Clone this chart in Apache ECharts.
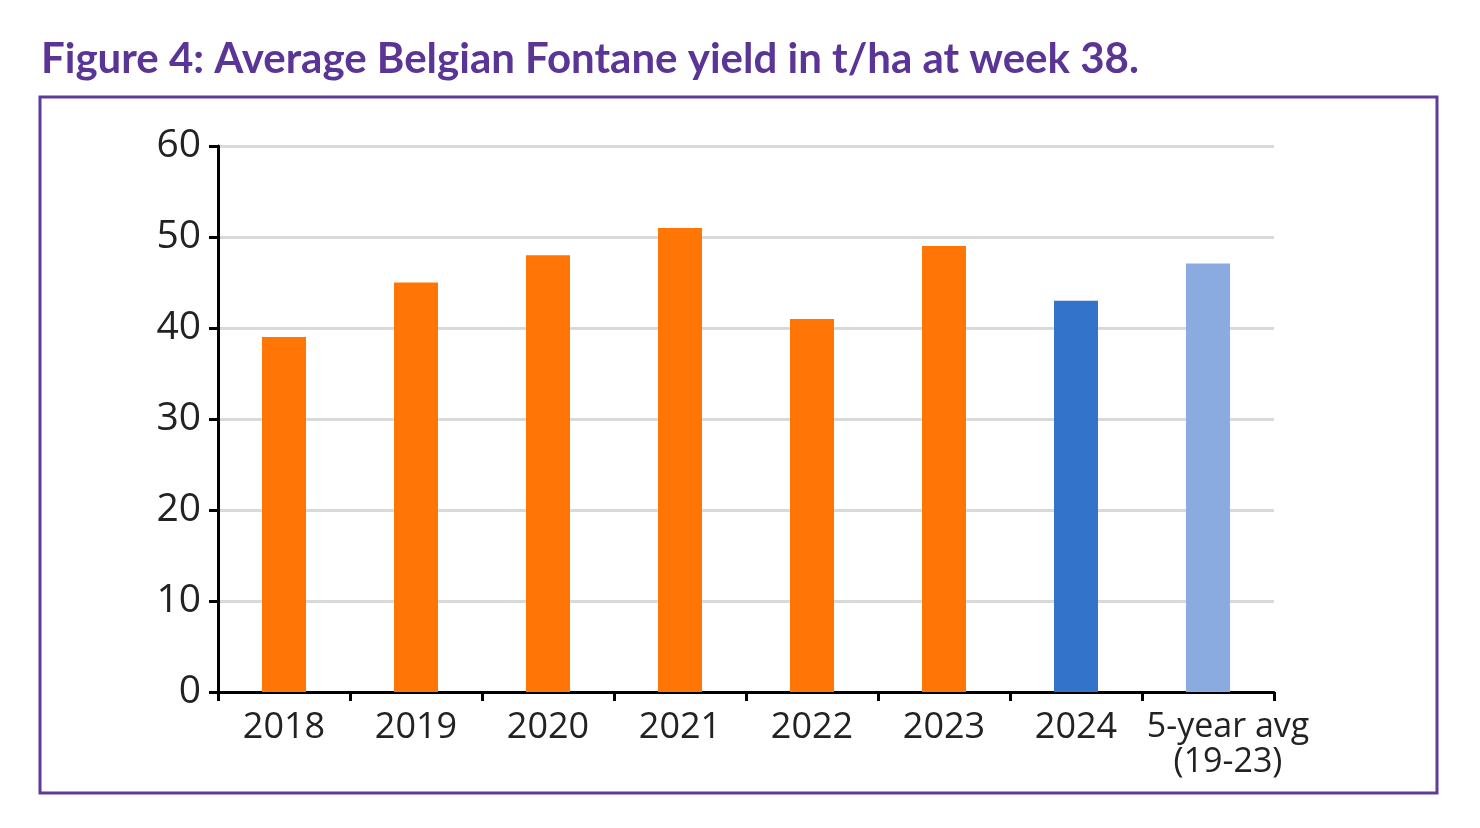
<!DOCTYPE html>
<html><head><meta charset="utf-8">
<script src="https://cdn.jsdelivr.net/npm/echarts@6/dist/echarts.min.js"></script>
<style>html,body{margin:0;padding:0;background:#fff}#c{width:1480px;height:828px}</style>
</head><body><div id="c"></div>
<script>
const categories = ['2018','2019','2020','2021','2022','2023','2024','5-year avg\n(19-23)'];
const values = [39, 45, 48, 51, 41, 49, 43, 47.1];
const barColors = ['#ff7607','#ff7607','#ff7607','#ff7607','#ff7607','#ff7607','#3373c9','#89abe0'];
const yTicks = [0,10,20,30,40,50,60];

const chart = echarts.init(document.getElementById('c'));
chart.setOption({
  animation: false,
  backgroundColor: '#fff',
  title: {
    text: 'Figure 4: Average Belgian Fontane yield in t/ha at week 38.',
    left: 36, top: 33,
    textStyle: {color: '#5b3596', fontSize: 42, fontWeight: 'bold', fontFamily: 'Lato'}
  },
  graphic: [{
    type: 'rect', shape: {x: 40, y: 97, width: 1397, height: 696},
    style: {fill: 'none', stroke: '#5e3d9a', lineWidth: 3}, z: 0
  }],
  grid: {left: 218, right: 206, top: 146, bottom: 136, containLabel: false},
  xAxis: {
    type: 'category', data: categories,
    axisLine: {lineStyle: {color: '#000', width: 3}},
    axisTick: {show: true, length: 9, lineStyle: {color: '#000', width: 3}},
    axisLabel: {
      color: '#222', fontSize: 36, fontFamily: 'Open Sans', margin: 18, lineHeight: 35, interval: 0,
      formatter: v => v.indexOf('\n') >= 0 ? v.split('\n').map(s => '{avg|' + s + '}').join('\n') : v,
      rich: {avg: {fontSize: 34, fontFamily: 'Open Sans', color: '#222', lineHeight: 35, padding: [0, 0, 0, 40]}}
    }
  },
  yAxis: {
    type: 'value', min: 0, max: 60, interval: 10,
    axisLine: {show: true, lineStyle: {color: '#000', width: 3}},
    axisTick: {show: true, length: 9, lineStyle: {color: '#000', width: 3}},
    splitLine: {lineStyle: {color: '#d9d9d9', width: 3}},
    axisLabel: {color: '#222', fontSize: 39, fontFamily: 'Open Sans', margin: 17,
      formatter: v => yTicks.includes(v) ? String(v) : ''}
  },
  series: [{
    type: 'bar', barWidth: 44,
    data: values.map((v, i) => ({value: v, itemStyle: {color: barColors[i]}}))
  }]
});
</script></body></html>
